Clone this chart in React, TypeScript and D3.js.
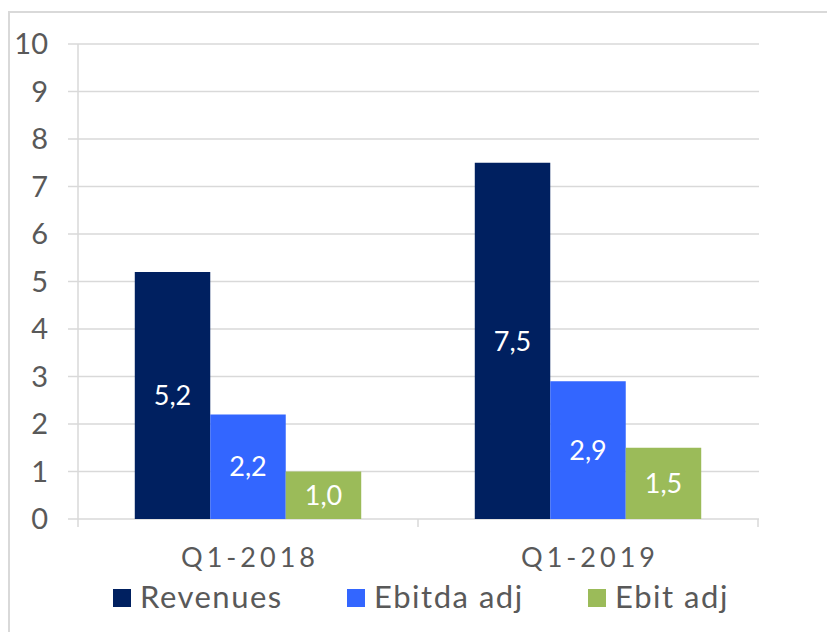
import React from "react";
import * as d3 from "d3";

const categories = ["Q1-2018", "Q1-2019"];
const seriesNames = ["Revenues", "Ebitda adj", "Ebit adj"];
const revenues = [5.2, 7.5];
const ebitdaAdj = [2.2, 2.9];
const ebitAdj = [1.0, 1.5];
const yTicks = [0, 1, 2, 3, 4, 5, 6, 7, 8, 9, 10];
const colors = ["#002060", "#3366FF", "#9BBB59"];

const FONT = "Lato, 'DejaVu Sans', sans-serif";
const TXT = "#595959";

export default function App() {
  const W = 827, H = 632;
  const left = 78, right = 758, top = 44, bottom = 519;
  const seriesValues = [revenues, ebitdaAdj, ebitAdj];
  const y = d3.scaleLinear().domain([0, 10]).range([bottom, top]);
  const x0 = d3.scaleBand().domain(categories).range([left, right]).paddingInner(0.334).paddingOuter(0.167);
  const x1 = d3.scaleBand().domain(seriesNames).range([0, x0.bandwidth()]).padding(0);
  const legendX = [113, 347, 588];
  const fmt = (v: number) => v.toFixed(1).replace(".", ",");
  const catBand = (right - left) / categories.length;

  return (
    <svg width={W} height={H} style={{ position: "absolute", left: 0, top: 0, background: "#fff" }}>
      <rect x={9} y={12} width={W} height={H} fill="#fff" stroke="#d9d9d9" strokeWidth={2} />
      {yTicks.map((t) => (
        <g key={t}>
          <line x1={68} x2={right + 1} y1={y(t)} y2={y(t)} stroke="#d9d9d9" strokeWidth={1.5} />
          <text x={48} y={y(t)} dy="0.36em" textAnchor="end" fontFamily={FONT} fontSize={29} fill={TXT}>
            {t}
          </text>
        </g>
      ))}
      <line x1={left} x2={left} y1={top} y2={bottom + 8} stroke="#d9d9d9" strokeWidth={1.5} />
      {categories.map((c, i) => (
        <line key={c} x1={left + catBand * (i + 1)} x2={left + catBand * (i + 1)} y1={bottom} y2={bottom + 8} stroke="#d9d9d9" strokeWidth={1.5} />
      ))}
      {categories.map((c, ci) => (
        <g key={c} transform={`translate(${x0(c)},0)`}>
          {seriesNames.map((s, si) => {
            const v = seriesValues[si][ci];
            const bx = x1(s)!;
            const bw = x1.bandwidth();
            return (
              <g key={s}>
                <rect x={bx} y={y(v)} width={bw} height={y(0) - y(v)} fill={colors[si]} />
                <text x={bx + bw / 2} y={(y(v) + y(0)) / 2} dy="0.36em" textAnchor="middle" fontFamily={FONT} fontSize={27} fill="#fff">
                  {fmt(v)}
                </text>
              </g>
            );
          })}
        </g>
      ))}
      {categories.map((c, i) => (
        <text key={c} x={left + catBand * (i + 0.5) + 2} y={567} textAnchor="middle" fontFamily={FONT} fontSize={27} letterSpacing={4} fill={TXT}>
          {c}
        </text>
      ))}
      {seriesNames.map((s, i) => (
        <g key={s}>
          <rect x={legendX[i]} y={589} width={18} height={18} fill={colors[i]} />
          <text x={legendX[i] + 27} y={608} fontFamily={FONT} fontSize={31} letterSpacing={1.5} fill={TXT}>
            {s}
          </text>
        </g>
      ))}
    </svg>
  );
}
